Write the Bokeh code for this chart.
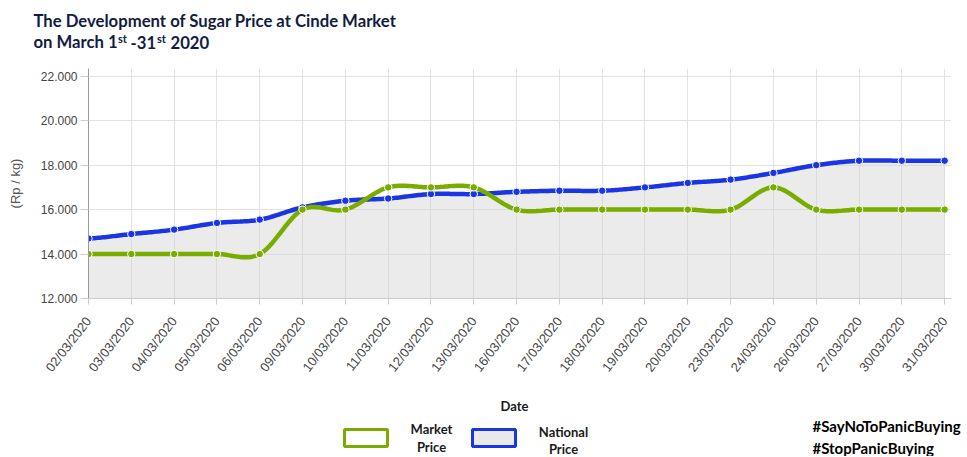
import numpy as np
from bokeh.plotting import figure
from bokeh.layouts import column
from bokeh.models import Range1d, FixedTicker, CustomJSTickFormatter
from bokeh.core.properties import value
from bokeh.embed import file_html
from bokeh.resources import INLINE

# ---------------- data ----------------
dates = ["02/03/2020", "03/03/2020", "04/03/2020", "05/03/2020", "06/03/2020",
         "09/03/2020", "10/03/2020", "11/03/2020", "12/03/2020", "13/03/2020",
         "16/03/2020", "17/03/2020", "18/03/2020", "19/03/2020", "20/03/2020",
         "23/03/2020", "24/03/2020", "26/03/2020", "27/03/2020", "30/03/2020",
         "31/03/2020"]
market_price = [14000, 14000, 14000, 14000, 14000, 16000, 16000, 17000, 17000, 17000,
                16000, 16000, 16000, 16000, 16000, 16000, 17000, 16000, 16000, 16000,
                16000]
national_price = [14700, 14900, 15100, 15400, 15550, 16100, 16400, 16500, 16700, 16700,
                  16800, 16850, 16850, 17000, 17200, 17350, 17650, 18000, 18200, 18200,
                  18200]
y_ticks = [12000, 14000, 16000, 18000, 20000, 22000]
y_min, y_max = 12000, 22350

MARKET_C = "#78ad00"
NATIONAL_C = "#1a35e3"
FILL_C = "#d2d2d2"
TITLE_C = "#121c40"
W = 957       # main chart width
WT = 966      # text panel width


def smooth(ys, n=24):
    """Catmull-Rom curve through the points (rendering only)."""
    ys = np.asarray(ys, float)
    m = np.empty_like(ys)
    m[1:-1] = (ys[2:] - ys[:-2]) / 2.0
    m[0] = (ys[1] - ys[0]) / 2.0
    m[-1] = (ys[-1] - ys[-2]) / 2.0
    xs_out, ys_out = [], []
    t = np.linspace(0, 1, n, endpoint=False)
    h00 = 2 * t**3 - 3 * t**2 + 1
    h10 = t**3 - 2 * t**2 + t
    h01 = -2 * t**3 + 3 * t**2
    h11 = t**3 - t**2
    for i in range(len(ys) - 1):
        xs_out.extend(i + t)
        ys_out.extend(h00 * ys[i] + h10 * m[i] + h01 * ys[i + 1] + h11 * m[i + 1])
    xs_out.append(len(ys) - 1)
    ys_out.append(ys[-1])
    return np.array(xs_out), np.array(ys_out)


def text_panel(height, y0):
    """A blank figure whose data coordinates equal page pixels."""
    f = figure(width=WT, height=height, output_backend="svg", toolbar_location=None,
               x_range=Range1d(0, WT), y_range=Range1d(y0 + height, y0),
               x_axis_type=None, y_axis_type=None, min_border=0)
    f.frame_align = False
    f.outline_line_color = None
    f.xgrid.visible = False
    f.ygrid.visible = False
    return f


def txt(f, s, x, y, size, align="left", baseline="middle", color=TITLE_C,
        style="bold", font="Lato"):
    f.text(x=[x], y=[y], text=[s], text_font=value(font), text_font_size=value(size),
           text_font_style=style, text_color=color, text_align=align,
           text_baseline=baseline)


# ---------------- title panel ----------------
top = text_panel(60, 0)
txt(top, "The Development of Sugar Price at Cinde Market", 33, 20.5, "16.7px")
txt(top, "on March 1", 33, 41.5, "16.7px")
txt(top, "st", 117.5, 37.5, "11px")
txt(top, "-31", 130, 41.5, "16.7px")
txt(top, "st", 156.5, 37.5, "11px")
txt(top, "2020", 170, 41.5, "16.7px")

# ---------------- main chart ----------------
idx = list(range(len(dates)))
mx, my = smooth(market_price)
nx, ny = smooth(national_price)

p = figure(width=W, height=328, output_backend="svg", toolbar_location=None,
           x_range=Range1d(0, 20.16), y_range=Range1d(y_min, y_max),
           min_border_left=88, min_border_right=6, min_border_top=8,
           min_border_bottom=90)
p.frame_align = False
p.outline_line_color = None

p.varea(x=nx, y1=np.full_like(ny, y_min), y2=ny, fill_color=FILL_C, fill_alpha=0.45)
p.line(nx, ny, line_color=NATIONAL_C, line_width=4.5)
p.scatter(idx, national_price, size=7.5, fill_color=NATIONAL_C, line_color="white",
          line_width=1)
p.line(mx, my, line_color=MARKET_C, line_width=4.5)
p.scatter(idx, market_price, size=7.5, fill_color=MARKET_C, line_color="white",
          line_width=1)

xa = p.xaxis[0]
xa.ticker = FixedTicker(ticks=idx)
xa.major_label_overrides = {i: d for i, d in enumerate(dates)}
xa.major_label_orientation = 0.91
xa.major_label_text_font = "Liberation Sans"
xa.major_label_text_font_size = "13px"
xa.major_label_text_color = "#444444"
xa.axis_line_color = "#cccccc"
xa.major_tick_line_color = "#cccccc"
xa.major_tick_out = 6
xa.major_tick_in = 0
xa.minor_tick_line_color = None
xa.major_label_standoff = 14

ya = p.yaxis[0]
ya.ticker = FixedTicker(ticks=y_ticks)
ya.formatter = CustomJSTickFormatter(code="return (tick/1000).toFixed(3);")
ya.major_label_text_font = "Liberation Sans"
ya.major_label_text_font_size = "12px"
ya.major_label_text_color = "#444444"
ya.axis_line_color = "#999999"
ya.major_tick_line_color = "#cccccc"
ya.major_tick_out = 8
ya.major_tick_in = 0
ya.minor_tick_line_color = None
ya.major_label_standoff = 3
ya.axis_label = "(Rp / kg)"
ya.axis_label_text_font = "Liberation Sans"
ya.axis_label_text_font_size = "13px"
ya.axis_label_text_font_style = "normal"
ya.axis_label_text_color = "#555555"
ya.axis_label_standoff = 15

p.xgrid.grid_line_color = "#e2e2e2"
p.ygrid.grid_line_color = "#e2e2e2"

# ---------------- legend / hashtag panel ----------------
bot = text_panel(68, 388)
LEG_C = "#1a1a1a"
txt(bot, "Date", 514, 405, "13px", align="center", color=LEG_C)
bot.quad(left=[344], right=[387], top=[429], bottom=[446], fill_color="white",
         line_color=MARKET_C, line_width=3)
bot.quad(left=[472], right=[515], top=[429], bottom=[446], fill_color="#e9e9e9",
         line_color=NATIONAL_C, line_width=3)
txt(bot, "Market", 431, 428, "13px", align="center", color=LEG_C)
txt(bot, "Price", 431, 446, "13px", align="center", color=LEG_C)
txt(bot, "National", 563, 431, "13px", align="center", color=LEG_C)
txt(bot, "Price", 563, 448, "13px", align="center", color=LEG_C)
txt(bot, "#SayNoToPanicBuying", 812, 425, "15px", color="#000000")
txt(bot, "#StopPanicBuying", 812, 447, "15px", color="#000000")

layout = column(top, p, bot, spacing=0)
open("out.html", "w").write(file_html(layout, INLINE))
